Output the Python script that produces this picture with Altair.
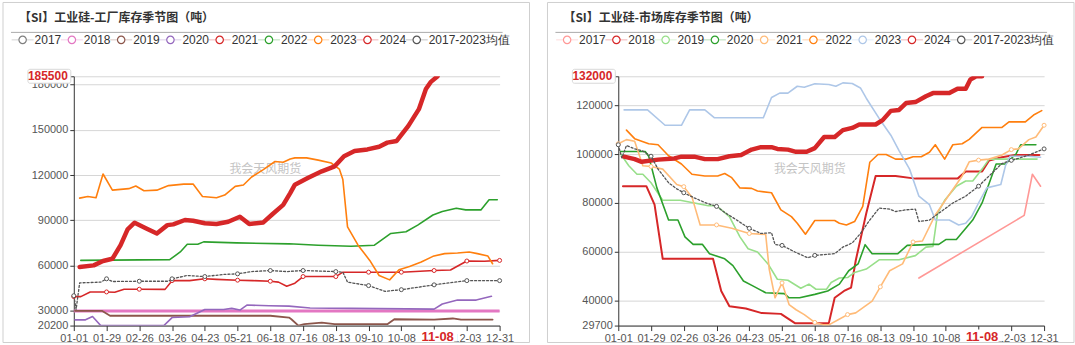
import altair as alt
import pandas as pd

# ---------------- data (x = day of year, 0 = 01-01) ----------------
# Left panel: 工业硅-工厂库存 (吨)
L2018_d = [0, 364]
L2018_v = [29800, 29800]
L2019_d = [1, 24, 31, 168, 184, 186, 192, 197, 212, 223, 268, 274, 308, 324, 331, 358]
L2019_v = [30000, 30000, 26700, 26700, 25500, 24400, 20200, 21100, 22200, 21100, 21100, 24400, 24200, 24900, 24200, 24200]
L2020_d = [1, 10, 16, 23, 77, 84, 99, 112, 128, 135, 142, 148, 167, 184, 202, 237, 308, 315, 328, 344, 357]
L2020_v = [24000, 24000, 26200, 20200, 20200, 25500, 26000, 30900, 30900, 31600, 30500, 33800, 33300, 33100, 31800, 31600, 31100, 34500, 37100, 37100, 39600]
L2021_d = [0, 6, 14, 28, 35, 43, 56, 78, 84, 99, 112, 122, 140, 153, 168, 175, 182, 189, 196, 224, 230, 252, 280, 308, 322, 336, 351, 364]
L2021_v = [39400, 39400, 42500, 42500, 42300, 44300, 44300, 44200, 50000, 50000, 51200, 50800, 50300, 50000, 49600, 49000, 46300, 48300, 52700, 52700, 55600, 55600, 55600, 56700, 57000, 63000, 62800, 63400]
L2022_d = [6, 82, 91, 97, 106, 111, 139, 184, 209, 237, 257, 271, 284, 294, 307, 315, 327, 335, 348, 355, 362]
L2022_v = [63400, 63900, 69000, 74100, 74100, 75700, 75000, 74400, 73500, 72800, 73500, 81300, 82400, 86800, 93500, 95800, 98000, 96900, 96900, 103600, 103600]
L2023_d = [5, 12, 19, 25, 33, 47, 53, 60, 71, 81, 94, 102, 110, 122, 129, 138, 145, 152, 162, 172, 179, 185, 189, 199, 209, 220, 227, 230, 234, 243, 253, 261, 270, 278, 287, 297, 307, 317, 328, 338, 345, 354, 358]
L2023_v = [104700, 105800, 105000, 120700, 110000, 111000, 112700, 109600, 110000, 113000, 114000, 114000, 105800, 105000, 106700, 112500, 113400, 118700, 123600, 129000, 128500, 130700, 131400, 131400, 129900, 128000, 124000, 117000, 85600, 73500, 63400, 53400, 50500, 57200, 59400, 62300, 66100, 67900, 68300, 69000, 67900, 66300, 61200]
L2024_d = [5, 17, 25, 33, 40, 46, 52, 62, 71, 80, 85, 95, 102, 112, 122, 132, 142, 150, 162, 170, 179, 185, 189, 200, 212, 223, 231, 240, 251, 261, 268, 276, 286, 295, 301, 305, 311]
L2024_v = [59000, 60100, 63000, 64500, 73500, 84000, 88400, 84600, 81300, 86800, 87300, 90200, 89700, 88000, 87500, 89000, 92400, 87500, 88600, 94200, 100200, 108000, 113600, 118000, 122500, 125800, 132500, 135900, 137000, 138800, 141500, 142600, 152600, 163700, 177000, 181600, 185500]
LAVG_d = [0, 2, 5, 23, 28, 33, 56, 81, 84, 97, 112, 128, 140, 152, 168, 182, 196, 224, 230, 234, 252, 266, 280, 308, 336, 364]
LAVG_v = [40000, 31000, 48500, 49000, 51200, 49400, 49600, 49600, 51200, 53400, 52700, 54100, 54500, 56000, 56700, 56000, 56700, 56000, 55600, 49000, 46700, 42900, 44000, 47200, 50000, 50000]

# Right panel: 工业硅-市场库存 (吨)
R2017_d = [257, 347, 354, 361]
R2017_v = [49200, 74900, 91800, 86900]
R2018_d = [4, 24, 31, 38, 54, 81, 88, 95, 109, 122, 139, 151, 180, 185, 193, 199, 203, 212, 220, 237, 254, 290, 297, 311, 317, 328, 339, 360]
R2018_v = [86900, 86900, 79300, 57100, 57100, 57100, 43900, 37600, 36700, 34900, 34500, 30700, 30700, 41100, 43900, 45300, 56400, 75800, 91100, 91100, 90000, 90000, 92900, 92900, 97400, 98800, 99700, 99700]
R2019_d = [2, 9, 16, 21, 28, 38, 53, 65, 77, 84, 95, 104, 111, 119, 128, 136, 145, 156, 163, 169, 178, 182, 189, 196, 202, 212, 223, 240, 254, 263, 269, 273, 279, 289, 297, 303, 311, 317, 328, 358]
R2019_v = [100100, 95300, 91800, 91800, 88300, 81100, 81100, 80000, 78900, 78900, 74400, 66100, 61200, 59900, 55000, 48700, 48300, 45000, 46700, 44600, 44600, 47400, 49200, 49400, 51500, 52900, 56700, 56700, 58400, 61900, 62200, 75800, 81100, 86900, 89000, 89000, 93900, 98000, 98000, 98000]
R2020_d = [2, 23, 26, 33, 43, 51, 57, 64, 72, 78, 91, 98, 107, 115, 126, 142, 146, 155, 168, 179, 189, 197, 205, 211, 217, 239, 247, 269, 274, 280, 289, 303, 311, 323, 331, 340, 344, 357]
R2020_v = [101100, 101100, 99200, 86200, 73000, 73000, 66100, 63000, 63000, 59200, 57100, 54300, 48000, 46000, 43200, 42800, 41100, 41100, 42500, 43900, 46700, 52200, 55000, 62900, 59200, 59200, 62600, 63000, 63000, 65000, 65000, 73000, 80000, 96000, 96000, 100100, 103900, 103900]
R2021_d = [0, 7, 14, 21, 28, 38, 50, 56, 63, 70, 84, 97, 112, 126, 129, 134, 140, 146, 152, 159, 168, 175, 180, 188, 196, 203, 217, 224, 232, 243, 252, 260, 271, 283, 294, 300, 308, 317, 328, 336, 342, 351, 357, 364]
R2021_v = [104300, 106000, 105300, 95300, 95000, 93900, 87600, 86700, 82400, 71000, 71000, 69600, 67500, 67100, 52900, 41100, 47200, 38300, 36200, 34200, 31000, 30000, 30000, 32100, 34200, 34900, 39700, 45600, 52200, 55000, 64000, 64400, 75100, 83500, 91100, 96900, 97600, 98000, 99700, 101900, 102200, 106000, 107100, 111900]
R2022_d = [7, 14, 26, 34, 43, 54, 63, 74, 85, 91, 97, 104, 114, 119, 131, 139, 148, 153, 160, 168, 185, 189, 195, 202, 209, 215, 222, 229, 237, 246, 252, 259, 266, 271, 279, 286, 294, 300, 311, 328, 334, 348, 355, 362]
R2022_v = [109900, 106400, 104300, 103900, 99400, 96000, 91800, 91100, 91100, 92100, 90400, 86200, 86000, 84900, 84200, 77200, 74400, 71700, 67200, 72800, 72800, 71700, 71000, 72400, 78600, 96700, 99900, 99900, 98000, 98000, 99000, 99000, 100800, 103900, 98000, 103900, 104300, 106100, 111000, 111000, 113300, 113300, 116100, 117900]
R2023_d = [5, 25, 40, 54, 61, 74, 82, 124, 131, 138, 145, 153, 159, 168, 180, 186, 192, 200, 207, 212, 223, 233, 240, 249, 257, 266, 271, 283, 291, 297, 302, 308, 315, 327, 331, 335, 351, 361]
R2023_v = [118200, 118200, 111900, 111900, 118200, 118200, 115000, 115000, 123300, 125100, 125100, 127900, 127500, 128900, 128600, 127900, 129300, 129000, 127200, 123000, 114700, 107800, 101500, 93900, 82800, 79300, 73000, 73000, 71000, 71700, 74400, 80000, 86200, 87600, 95300, 99200, 99200, 98800]
R2024_d = [5, 14, 20, 34, 48, 54, 65, 74, 85, 95, 105, 114, 122, 131, 136, 145, 152, 161, 168, 176, 185, 192, 200, 206, 220, 226, 233, 240, 246, 254, 263, 269, 283, 290, 297, 301, 306, 311]
R2024_v = [99000, 98000, 96900, 97800, 98300, 99000, 99000, 98000, 98000, 99200, 99700, 101900, 102900, 102900, 102200, 101900, 101000, 101000, 102500, 107100, 107100, 109900, 110800, 112200, 112200, 114000, 117800, 118200, 121000, 121400, 123800, 125100, 125100, 126900, 126900, 130700, 132000, 132000]
RAVG_d = [0, 3, 7, 14, 21, 28, 34, 43, 50, 56, 65, 75, 84, 91, 99, 112, 122, 131, 134, 140, 151, 162, 168, 185, 192, 200, 207, 215, 223, 232, 237, 246, 254, 257, 266, 274, 286, 297, 308, 317, 328, 336, 340, 351, 364]
RAVG_v = [103900, 98500, 103600, 102200, 101300, 99200, 93900, 88300, 85800, 84200, 82100, 80000, 78600, 76100, 73700, 69600, 67500, 67800, 63000, 62600, 59900, 57500, 58500, 59200, 61900, 63600, 67500, 73000, 77900, 77500, 76500, 77200, 77500, 72400, 73000, 75800, 80000, 82800, 86900, 91100, 96200, 97500, 98000, 99700, 102200]

LEGEND_NAMES = ["2017", "2018", "2019", "2020", "2021", "2022", "2023", "2024", "2017-2023均值"]
LEFT_COLORS = ["#7f7f7f", "#e377c2", "#8c564b", "#9467bd", "#d62728", "#2ca02c", "#ff7f0e", "#d62728", "#555555"]
RIGHT_COLORS = ["#ff9896", "#d62728", "#98df8a", "#2ca02c", "#ffbb78", "#ff7f0e", "#aec7e8", "#d62728", "#555555"]

LEFT_TITLE = "【SI】工业硅-工厂库存季节图（吨）"
RIGHT_TITLE = "【SI】工业硅-市场库存季节图（吨）"
LEFT_YTICKS = [20200, 30000, 60000, 90000, 120000, 150000, 180000, 185500]
RIGHT_YTICKS = [29700, 40000, 60000, 80000, 100000, 120000, 132000]
X_TICKS = list(range(0, 365, 28))
TODAY = 311
WATERMARK = "我会天风期货"

W, H = 427, 250
FONT = "Liberation Sans"
CJK = "Noto Sans CJK SC"


def panel(title, series, colors, yticks):
    ymin, ymax = yticks[0], yticks[-1]
    xenc = alt.X("day:Q", scale=alt.Scale(domain=[0, 364], nice=False, zero=False),
                 axis=alt.Axis(values=X_TICKS, title=None, grid=False,
                               labelExpr="datum.value == 308 ? '' : timeFormat(datetime(2023, 0, 1 + datum.value), '%m-%d')",
                               domainColor="#333", tickColor="#333", tickSize=5,
                               labelColor="#555", labelFontSize=11, labelFont=FONT,
                               labelPadding=2, labelFlush=False, labelOverlap=False))
    yenc = alt.Y("value:Q", scale=alt.Scale(domain=[ymin, ymax], nice=False, zero=False),
                 axis=alt.Axis(values=yticks, title=None, format="d",
                               labelExpr="datum.value == %d ? '' : datum.label" % ymax,
                               domainColor="#333", tickColor="#333", tickSize=4,
                               gridColor="#d6d6d6", labelColor="#555", labelFontSize=11,
                               labelFont=FONT, labelPadding=2))
    one = pd.DataFrame({"a": [0]})
    layers = []
    # border
    layers.append(alt.Chart(one).mark_rect(fillOpacity=0, stroke="#cfcfcf", strokeWidth=1).encode(
        x=alt.value(-71), x2=alt.value(457), y=alt.value(-74), y2=alt.value(267)))
    # watermark
    layers.append(alt.Chart(one).mark_text(text=WATERMARK, font=CJK, fontSize=12, color="#c4c4c4",
                                           align="center", baseline="middle").encode(
        x=alt.value(192), y=alt.value(93)))
    # series lines
    for (name, days, vals, width, dash, marks), color in zip(series, colors):
        if days is None:
            continue
        df = pd.DataFrame({"day": days, "value": vals})
        kw = dict(color=color, strokeWidth=width, strokeJoin="round", strokeCap="round", clip=True)
        if dash:
            kw["strokeDash"] = [2, 2]
        layers.append(alt.Chart(df).mark_line(**kw).encode(x=xenc, y=yenc))
        if marks:
            mdf = df[df["day"] % 28 == 0]
            layers.append(alt.Chart(mdf).mark_point(shape="circle", size=16, fill="white", fillOpacity=1,
                                                    stroke=color, strokeWidth=1, opacity=1).encode(x=xenc, y=yenc))
    # max label box
    mdf = pd.DataFrame({"value": [ymax]})
    layers.append(alt.Chart(mdf).mark_rect(fill="white", stroke="#d8d8d8", cornerRadius=2,
                                           yOffset=-7, y2Offset=7).encode(
        x=alt.value(-46), x2=alt.value(-3), y=yenc, y2=alt.Y2("value:Q")))
    layers.append(alt.Chart(mdf).mark_text(align="right", baseline="middle", fontSize=12,
                                           fontWeight="bold", color="#d62728", font=FONT).encode(
        x=alt.value(-6), y=yenc, text=alt.Text("value:Q", format="d")))
    # today label
    tdf = pd.DataFrame({"day": [TODAY], "lab": ["11-08"]})
    layers.append(alt.Chart(tdf).mark_rect(fill="white", xOffset=-21, x2Offset=20).encode(
        x=xenc, x2=alt.X2("day:Q"), y=alt.value(254), y2=alt.value(266)))
    layers.append(alt.Chart(tdf).mark_text(align="center", baseline="middle", fontSize=13,
                                           fontWeight="bold", color="#d62728", font=FONT).encode(
        x=xenc, y=alt.value(261), text="lab:N"))
    # title + separator
    layers.append(alt.Chart(one).mark_text(text=title, font=CJK, fontSize=12, fontWeight="bold",
                                           color="#333", align="left", baseline="middle").encode(
        x=alt.value(-55), y=alt.value(-58)))
    layers.append(alt.Chart(one).mark_rule(color="#aaaaaa", strokeWidth=1).encode(
        x=alt.value(-63), x2=alt.value(430), y=alt.value(-44)))
    # legend
    ldf = pd.DataFrame({"name": LEGEND_NAMES, "color": colors})
    ldf["cx"] = [-51.3 + 49.4 * i for i in range(len(ldf))]
    ldf["x0"] = ldf["cx"] - 11
    ldf["x1"] = ldf["cx"] + 11
    ldf["tx"] = ldf["cx"] + 12
    layers.append(alt.Chart(ldf).mark_rule(strokeWidth=1, opacity=0.35).encode(
        x=alt.X("x0:Q", scale=None), x2="x1:Q", y=alt.value(-36.5),
        color=alt.Color("color:N", scale=None)))
    layers.append(alt.Chart(ldf).mark_point(shape="circle", size=55, fill="white", fillOpacity=1,
                                            strokeWidth=1.2, opacity=1).encode(
        x=alt.X("cx:Q", scale=None), y=alt.value(-36.5), stroke=alt.Stroke("color:N", scale=None)))
    layers.append(alt.Chart(ldf).mark_text(align="left", baseline="middle", fontSize=12,
                                           color="#333", font=FONT).encode(
        x=alt.X("tx:Q", scale=None), y=alt.value(-36.5), text="name:N"))
    return alt.layer(*layers).properties(width=W, height=H)


left_series = [
    ("2017", None, None, 1.6, False, False),
    ("2018", L2018_d, L2018_v, 3, False, False),
    ("2019", L2019_d, L2019_v, 1.8, False, False),
    ("2020", L2020_d, L2020_v, 1.6, False, False),
    ("2021", L2021_d, L2021_v, 1.6, False, True),
    ("2022", L2022_d, L2022_v, 1.6, False, False),
    ("2023", L2023_d, L2023_v, 1.6, False, False),
    ("2024", L2024_d, L2024_v, 4.5, False, False),
    ("avg", LAVG_d, LAVG_v, 1.3, True, True),
]
right_series = [
    ("2017", R2017_d, R2017_v, 1.6, False, False),
    ("2018", R2018_d, R2018_v, 2, False, False),
    ("2019", R2019_d, R2019_v, 1.6, False, False),
    ("2020", R2020_d, R2020_v, 1.6, False, False),
    ("2021", R2021_d, R2021_v, 1.6, False, True),
    ("2022", R2022_d, R2022_v, 1.6, False, False),
    ("2023", R2023_d, R2023_v, 1.6, False, False),
    ("2024", R2024_d, R2024_v, 4.5, False, False),
    ("avg", RAVG_d, RAVG_v, 1.3, True, True),
]

left = panel(LEFT_TITLE, left_series, LEFT_COLORS, LEFT_YTICKS)
right = panel(RIGHT_TITLE, right_series, RIGHT_COLORS, RIGHT_YTICKS)

chart = alt.hconcat(left, right, spacing=16).properties(
    padding={"left": 2, "top": 1, "right": 0, "bottom": 0},
    background="white",
).configure_view(strokeWidth=0)

chart.save("out.html", embed_options={"renderer": "svg", "actions": False})
